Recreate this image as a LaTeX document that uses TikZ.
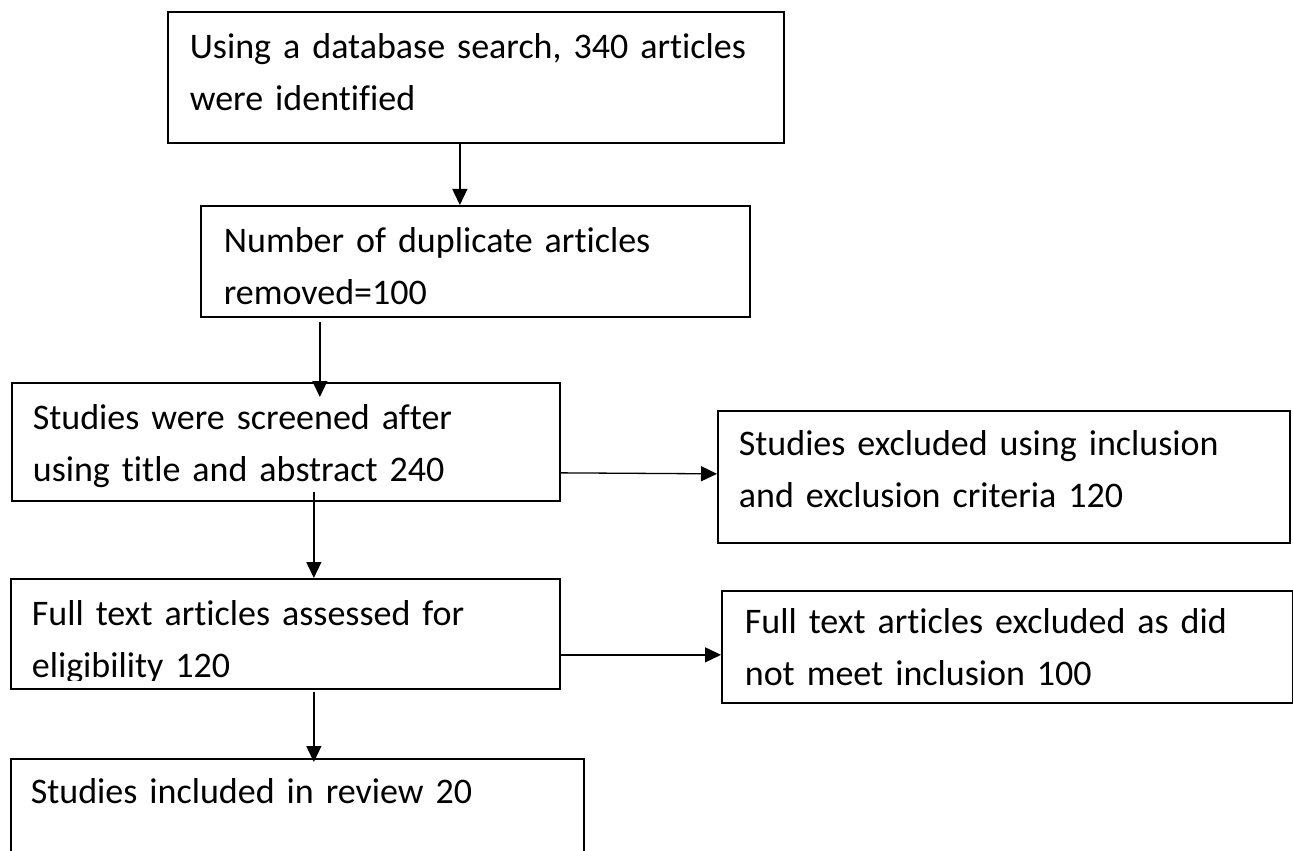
\documentclass[tikz,border=0pt]{standalone}
\usepackage{fontspec}
\setmainfont{Carlito}[Ligatures=NoCommon]
\usetikzlibrary{arrows.meta}

\begin{document}
\begin{tikzpicture}[x=0.5pt,y=-0.5pt,
  box/.style={draw,line width=0.85pt,anchor=north west,align=left,inner ysep=0pt,font=\fontsize{18}{26}\selectfont},
  arr/.style={line width=0.65pt,-{Triangle[length=8pt,width=7.5pt]}}]
\useasboundingbox (0,0) rectangle (1293,850);
% main column of the flow
\node[box,inner xsep=11pt,text width=286pt,text height=23.5pt,text depth=42pt] (ident) at (167,11) {Using a database search, 340 articles\\were identified};
\node[box,inner xsep=11.5pt,text width=251.5pt,text height=23.5pt,text depth=32pt] (dupl) at (200,205) {Number of duplicate articles\\removed=100};
\node[box,inner xsep=10.5pt,text width=253pt,text height=23.5pt,text depth=35.5pt] (screen) at (11,382) {Studies were screened after\\using title and abstract 240};
\node[box,minimum width=274.5pt,minimum height=55pt] (fullt) at (10,578) {};
\begin{scope}
\clip (fullt.north west) rectangle ([yshift=4.5pt]fullt.south east);
\node[box,draw=none,inner xsep=10.5pt,text width=253.5pt,text height=23.5pt,text depth=31.5pt] (fulltxt) at (fullt.north west) {Full text articles assessed for\\eligibility 120};
\end{scope}
\node[box,inner xsep=10pt,text width=266.5pt,text height=22.5pt,text depth=38.5pt] (incl) at (10,758) {Studies included in review 20};
% exclusions on the right
\node[box,inner xsep=10.5pt,text width=265pt,text height=22.5pt,text depth=43.5pt] (excla) at (717,410) {Studies excluded using inclusion\\and exclusion criteria 120};
\node[box,inner xsep=11.5pt,text width=262.5pt,text height=21.5pt,text depth=34.5pt] (exclb) at (721,590) {Full text articles excluded as did\\not meet inclusion 100};
% connectors
\draw[arr] ([xshift=-8pt]ident.south) -- ([xshift=-7.75pt]dupl.north);
\draw[arr] ([shift={(-77.75pt,-2pt)}]dupl.south) -- ([shift={(17pt,-7.5pt)}]screen.north);
\draw[arr] ([yshift=-15.5pt]screen.east) -- ([yshift=1.5pt]excla.west);
\draw[arr] ([shift={(14pt,5pt)}]screen.south) -- ([xshift=14.25pt]fullt.north);
\draw[arr] ([yshift=-10.5pt]fullt.east) -- ([yshift=-4pt]exclb.west);
\draw[arr] ([shift={(14.25pt,-1pt)}]fullt.south) -- ([shift={(8.25pt,-2pt)}]incl.north);
\end{tikzpicture}
\end{document}
